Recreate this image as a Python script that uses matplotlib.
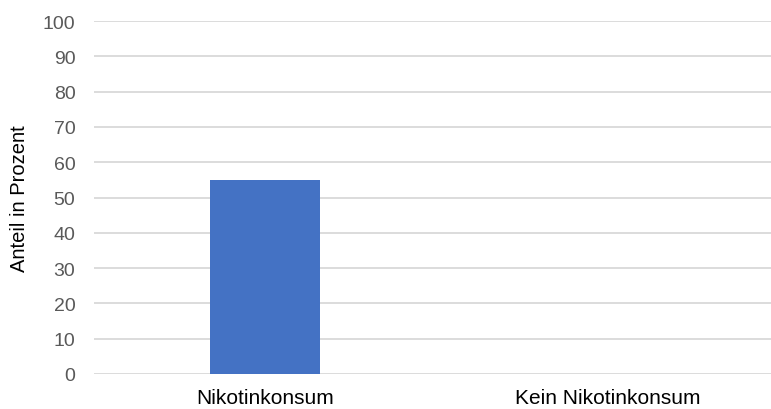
import matplotlib.pyplot as plt

# Daten
categories = ['Nikotinkonsum', 'Kein Nikotinkonsum']
values = [55, 0]
yticks = list(range(0, 101, 10))

plt.rcParams['font.family'] = ['Liberation Sans', 'DejaVu Sans']

fig = plt.figure(figsize=(7.71, 4.10), dpi=100)
# Zeichenfläche reicht rechts etwas über den Bildrand hinaus
ax = fig.add_axes([93.5 / 771, 0.0854, 686 / 771, 0.8609])

x = range(len(categories))
ax.bar(x, values, width=0.318, color='#4472c4', zorder=3)

ax.set_xlim(-0.5, 1.5)
ax.set_ylim(0, 100)
ax.set_yticks(yticks)
ax.set_xticks(list(x))
ax.set_xticklabels(categories, fontsize=15, color='#000000')
ax.tick_params(axis='y', labelsize=14, labelcolor='#595959', length=0, pad=13)
ax.tick_params(axis='x', length=0, pad=10)
ax.grid(True, axis='y', color='#d9d9d9', linewidth=1.3, zorder=0)
for s in ax.spines.values():
    s.set_visible(False)
ax.set_ylabel('Anteil in Prozent', fontsize=14.5, labelpad=10)

fig.savefig('out.png', dpi=100)
